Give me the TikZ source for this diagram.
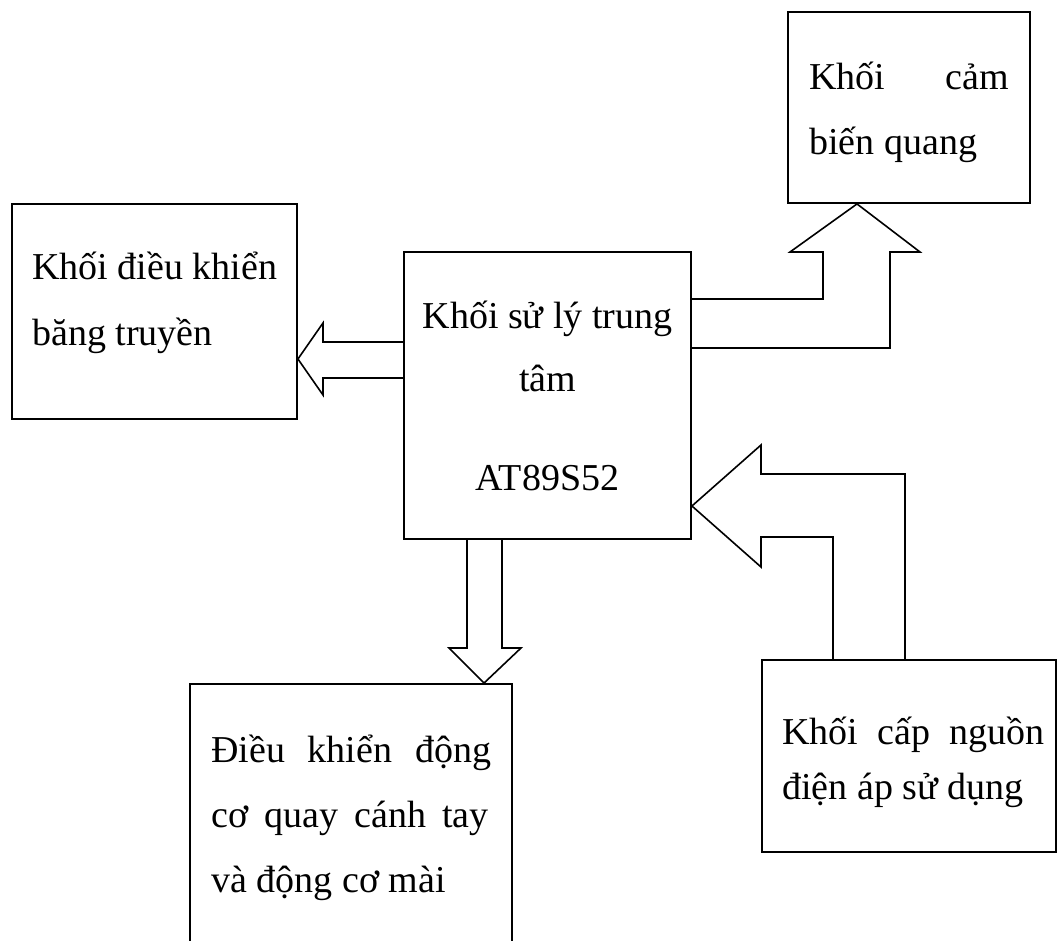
\documentclass[tikz,border=0pt]{standalone}
\usepackage{fontspec}
\setmainfont{Liberation Serif}
\usetikzlibrary{fit}
\begin{document}
\begin{tikzpicture}[x=0.75pt,y=-0.75pt,
  box/.style={draw=black,line width=1.4pt,inner sep=0pt},
  blockarrow/.style={draw=black,line width=1.2pt,line join=miter},
  txt/.style={inner sep=0pt,font=\fontsize{28.5pt}{34pt}\selectfont}]
\clip (0,0) rectangle (1057,941);
\fill[white] (0,0) rectangle (1057,941);
% boxes
\node[box,fit={(12,204) (297,419)}] (belt) {};
\node[box,fit={(404,252) (691,539)}] (cpu) {};
\node[box,fit={(788,12) (1030,203)}] (sens) {};
\node[box,fit={(190,684) (512,990)}] (motor) {};
\node[box,fit={(762,660) (1056,852)}] (pwr) {};
% texts
\node[txt,anchor=base west] (belt1) at (32,280) {Khối điều khiển};
\node[txt,anchor=base west] (belt2) at (32,345) {băng truyền};
\node[txt,anchor=base] (cpu1) at (547.5,329) {Khối sử lý trung};
\node[txt,anchor=base] (cpu2) at (547.5,392) {tâm};
\node[txt,anchor=base] (cpu3) at (547.5,490) {AT89S52};
\node[txt,anchor=base west] (sens1) at (809,90) {\makebox[150pt][s]{Khối cảm}};
\node[txt,anchor=base west] (sens2) at (809,155) {biến quang};
\node[txt,anchor=base west] (mot1) at (211,762) {\makebox[210pt][s]{Điều khiển động}};
\node[txt,anchor=base west] (mot2) at (211,827) {\makebox[208pt][s]{cơ quay cánh tay}};
\node[txt,anchor=base west] (mot3) at (211,892) {và động cơ mài};
\node[txt,anchor=base west] (pwr1) at (782,744) {\makebox[197pt][s]{Khối cấp nguồn}};
\node[txt,anchor=base west] (pwr2) at (782,799) {điện áp sử dụng};
% block arrows
\draw[blockarrow] (cpu.west |- 0,342) -- (323,342) -- (323,323) -- (belt.east |- 0,359)
  -- (323,395) -- (323,378) -- (cpu.west |- 0,378);
\draw[blockarrow] (cpu.east |- 0,299) -- (823,299) -- (823,252) -- (790,252)
  -- (857,0 |- sens.south) -- (920,252) -- (890,252) -- (890,348) -- (cpu.east |- 0,348);
\draw[blockarrow] (833,0 |- pwr.north) -- (833,537) -- (761,537) -- (761,567)
  -- (cpu.east |- 0,506) -- (761,445) -- (761,474) -- (905,474) -- (905,0 |- pwr.north);
\draw[blockarrow] (467,0 |- cpu.south) -- (467,648) -- (449,648) -- (484,0 |- motor.north)
  -- (521,648) -- (502,648) -- (502,0 |- cpu.south);
\end{tikzpicture}
\end{document}
